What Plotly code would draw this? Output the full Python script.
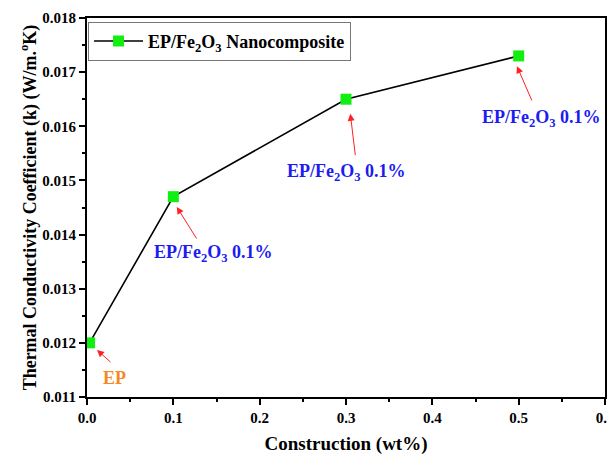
import plotly.graph_objects as go

x_wt = [0.003, 0.1, 0.3, 0.5]
k_vals = [0.0120, 0.0147, 0.0165, 0.0173]
labels = ["EP", "EP/Fe<sub>2</sub>O<sub>3</sub> 0.1%", "EP/Fe<sub>2</sub>O<sub>3</sub> 0.1%", "EP/Fe<sub>2</sub>O<sub>3</sub> 0.1%"]
label_colors = ["#f5891f", "#1c1cf0", "#1c1cf0", "#1c1cf0"]
# label centres (data coords)
label_x = [0.032, 0.147, 0.301, 0.527]
label_y = [0.01136, 0.01365, 0.01514, 0.01615]
# arrows: tail -> head (near marker)
tails_x = [0.029, 0.128, 0.311, 0.516]
tails_y = [0.01162, 0.01390, 0.01544, 0.01645]
heads_x = [0.0116, 0.104, 0.305, 0.498]
heads_y = [0.01187, 0.01451, 0.01623, 0.01711]

FONT = "Liberation Serif"

fig = go.Figure()
fig.add_trace(go.Scatter(
    x=x_wt, y=k_vals, mode="lines+markers",
    name="<b>EP/Fe<sub>2</sub>O<sub>3</sub> Nanocomposite</b>",
    line=dict(color="black", width=1.6),
    marker=dict(symbol="square", size=11, color="#11ee11", line=dict(width=0)),
))

for i in range(len(x_wt)):
    fig.add_annotation(
        x=label_x[i], y=label_y[i], xref="x", yref="y",
        text="<b>%s</b>" % labels[i], showarrow=False,
        font=dict(family=FONT, size=18, color=label_colors[i]),
    )

for i in range(len(x_wt)):
    fig.add_annotation(
        x=heads_x[i], y=heads_y[i], ax=tails_x[i], ay=tails_y[i],
        xref="x", yref="y", axref="x", ayref="y",
        text="", showarrow=True, arrowhead=2, arrowsize=1.4, arrowwidth=1,
        arrowcolor="#ff2020",
    )

fig.update_layout(
    width=607, height=447,
    margin=dict(l=79, r=10, t=10, b=58),
    paper_bgcolor="white", plot_bgcolor="white",
    font=dict(family=FONT, color="black"),
    showlegend=True,
    legend=dict(
        x=0.002, y=0.99, xanchor="left", yanchor="top",
        bgcolor="white", bordercolor="#777777", borderwidth=1,
        font=dict(family=FONT, size=18, color="black"),
        itemwidth=49,
    ),
    xaxis=dict(
        range=[0, 0.6], tick0=0, dtick=0.1, tickformat=".1f",
        automargin=False,
        showgrid=False, zeroline=False,
        showline=True, linecolor="black", linewidth=2, mirror=True,
        ticks="outside", ticklen=6, tickwidth=1.5, tickcolor="black",
        minor=dict(ticks="outside", ticklen=3, tickwidth=1.5, dtick=0.05, tickcolor="black"),
        tickfont=dict(family=FONT, size=15, color="black", weight="bold"),
        title=dict(text="<b>Construction (wt%)</b>", font=dict(family=FONT, size=19), standoff=15),
    ),
    yaxis=dict(
        range=[0.011, 0.018], tick0=0.011, dtick=0.001, tickformat=".3f",
        automargin=False,
        showgrid=False, zeroline=False,
        showline=True, linecolor="black", linewidth=2, mirror=True,
        ticks="outside", ticklen=6, tickwidth=1.5, tickcolor="black",
        minor=dict(ticks="outside", ticklen=3, tickwidth=1.5, dtick=0.0005, tickcolor="black"),
        tickfont=dict(family=FONT, size=15, color="black", weight="bold"),
        title=dict(text="<b>Thermal Conductivity Coefficient (k) (W/m.<sup>o</sup>K)</b>",
                   font=dict(family=FONT, size=18), standoff=1),
    ),
)

fig.write_html("out.html")
